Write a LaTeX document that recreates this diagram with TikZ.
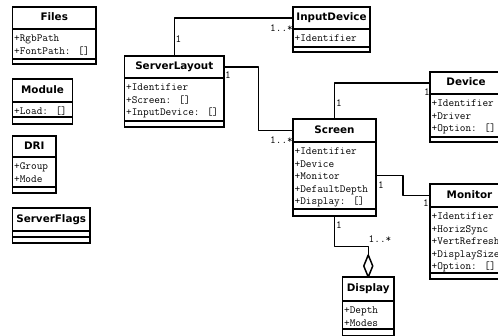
\documentclass[tikz,border=0pt]{standalone}
\usepackage{fontspec}
\newfontfamily\titlef{DejaVu Sans}
\usetikzlibrary{calc}
\newcommand\attf{\fontsize{11}{12.5}\selectfont\ttfamily}
\newcommand\umlclass[9]{%
  \node[ttl, minimum width=#4bp, minimum height=#5bp] (#1) at (#2,#3) {#8};
  \node[cmp, minimum width=#4bp, minimum height=#6bp] (#1A) at (#1.south west) {};
  \node[cmp, minimum width=#4bp, minimum height=#7bp] (#1O) at (#1A.south west) {};
  \if\relax\detokenize{#9}\relax\else
    \node[attxt] (#1T) at ([shift={(1.5,3.5)}]#1A.north west) {\rule{0pt}{9bp}#9};
  \fi
}
\begin{document}
\begin{tikzpicture}[x=1bp,y=-1bp,
  cmp/.style={draw, line width=1.5bp, inner sep=0pt, outer sep=0pt, anchor=north west, fill=white},
  ttl/.style={cmp, font=\titlef\bfseries\fontsize{10.4}{12}\selectfont, text height=7.6bp, text depth=2bp},
  attxt/.style={anchor=north west, inner sep=0pt, align=left, font=\attf},
  lbl/.style={inner sep=0pt, font=\attf},
  link/.style={line width=1.5bp, line join=round}]
\useasboundingbox (0,0) rectangle (498,335);
\clip (0,0) rectangle (498,335);
\fill[white] (0,0) rectangle (498,335);

\umlclass{files}{12.5}{7}{83.5}{22}{30}{5}{Files}{+RgbPath\\+FontPath: []}
\umlclass{module}{12.5}{79}{60}{23}{15}{7}{Module}{+Load: []}
\umlclass{dri}{12.5}{136}{43.5}{21}{30}{6}{DRI}{+Group\\+Mode}
\umlclass{flags}{12.5}{208}{77.5}{23}{6}{6}{ServerFlags}{}
\umlclass{sl}{124.5}{56}{99.5}{22}{43}{6}{ServerLayout}{+Identifier\\+Screen: []\\+InputDevice: []}
\umlclass{inp}{293}{7}{77}{22}{18}{5}{InputDevice}{+Identifier}
\umlclass{sc}{293}{119}{83}{23}{67}{7}{Screen}{+Identifier\\+Device\\+Monitor\\+DefaultDepth\\+Display: []}
\umlclass{dev}{430}{72}{72}{22}{43}{5}{Device}{+Identifier\\+Driver\\+Option: []}
\umlclass{mon}{430}{184}{79}{23}{66}{6}{Monitor}{+Identifier\\+HorizSync\\+VertRefresh\\+DisplaySize\\+Option: []}
\umlclass{disp}{342.5}{277}{51.5}{24}{28}{7}{Display}{+Depth\\+Modes}

\coordinate (m1) at ($(sl.east)!0.5!(sc.west)$);
\coordinate (m2) at ($(scA.east)!0.5!(mon.west)$);
\coordinate (dtip) at ([yshift=22bp]disp.north);
\coordinate (m3) at ($(scO.south)!0.5!(disp.north)$);

\draw[link] (sl.north) |- (inp.west);
\draw[link] (sl.east) -| (m1) |- (sc.west);
\draw[link] (sc.north) |- (dev.west);
\draw[link] (scA.east) -| (m2) |- (mon.west);
\draw[link] (scO.south) |- (m3) -| (dtip);
\draw[link, fill=white] (disp.north) -- ++(-4.5,-11) -- (dtip) -- ++(4.5,11) -- cycle;

\node[lbl] (l1) at (281.5,28) {1..*};
\node[lbl] (l2) at (178.5,39) {1};
\node[lbl] (l3) at (228,75) {1};
\node[lbl] (l4) at (281.5,140) {1..*};
\node[lbl] (l5) at (339,103) {1};
\node[lbl] (l6) at (427,92) {1};
\node[lbl] (l7) at (381,185) {1};
\node[lbl] (l8) at (426,203) {1};
\node[lbl] (l9) at (339,225) {1};
\node[lbl] (l10) at (380,239) {1..*};
\end{tikzpicture}
\end{document}
